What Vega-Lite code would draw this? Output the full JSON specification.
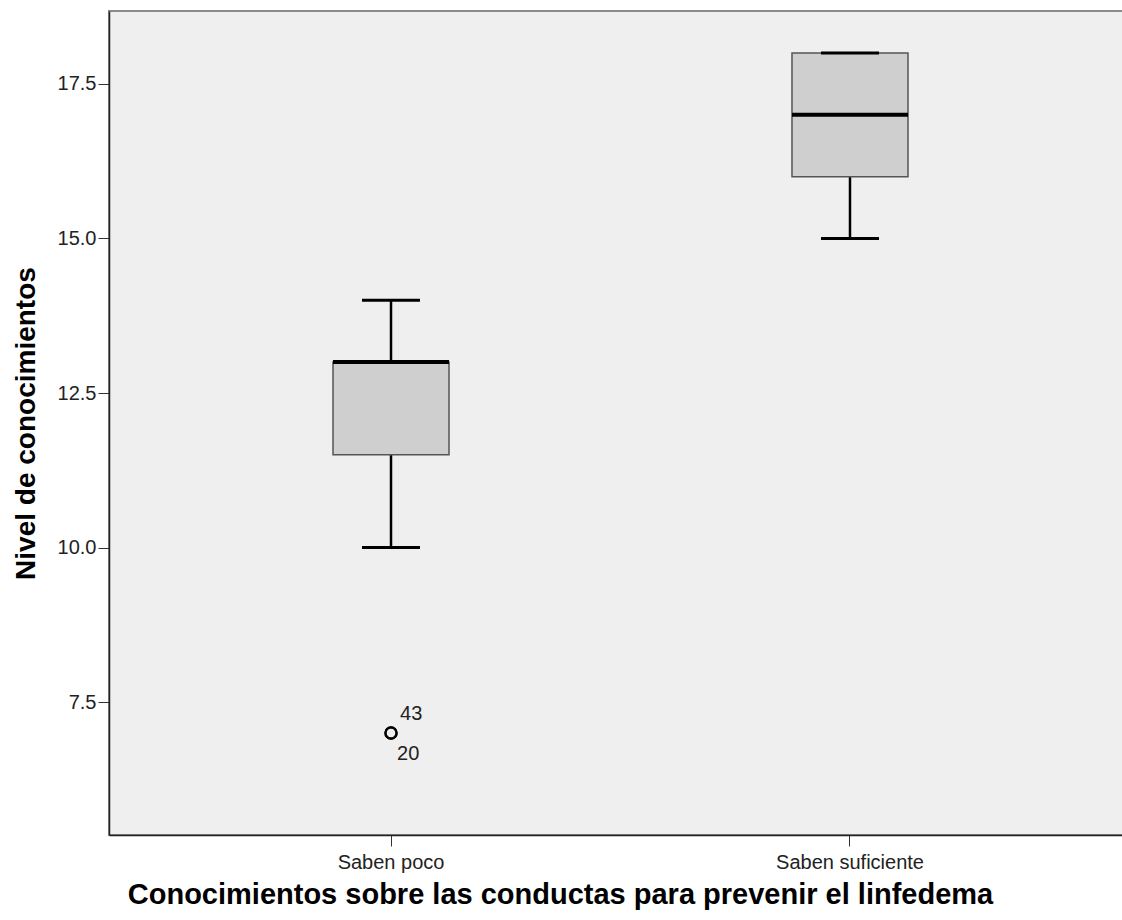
{
  "$schema": "https://vega.github.io/schema/vega-lite/v6.json",
  "autosize": {"type": "none"},
  "padding": {"left": 109, "top": 11, "right": 0, "bottom": 85},
  "width": 1023,
  "height": 824,
  "background": "white",
  "config": {
    "font": "Liberation Sans",
    "view": {"fill": "#efefef", "stroke": "#8a8a8a", "strokeWidth": 2}
  },
  "datasets": {
    "boxes": [
      {"grupo": "Saben poco", "lower": 10, "q1": 11.5, "median": 13, "q3": 13, "upper": 14},
      {"grupo": "Saben suficiente", "lower": 15, "q1": 16, "median": 17, "q3": 18, "upper": 18}
    ],
    "outliers": [
      {"grupo": "Saben poco", "valor": 7, "caso": "43", "pos": "arriba"},
      {"grupo": "Saben poco", "valor": 7, "caso": "20", "pos": "abajo"}
    ]
  },
  "encoding": {
    "x": {
      "field": "grupo",
      "type": "nominal",
      "scale": {"domain": ["Saben poco", "Saben suficiente"], "paddingInner": 0.5, "paddingOuter": 0.3644},
      "axis": {
        "title": "Conocimientos sobre las conductas para prevenir el linfedema",
        "titleFont": "Liberation Sans",
        "titleFontSize": 29,
        "titleFontWeight": "bold",
        "titleColor": "black",
        "titleX": 451,
        "titlePadding": 8,
        "labelFontSize": 20,
        "labelColor": "#222",
        "labelPadding": 6,
        "labelAngle": 0,
        "tickSize": 11,
        "tickColor": "#333",
        "domainColor": "#222",
        "domainWidth": 1.5
      }
    }
  },
  "layer": [
    {
      "data": {"name": "boxes"},
      "mark": {"type": "rule", "color": "black", "strokeWidth": 2.5},
      "encoding": {
        "y": {"field": "lower", "type": "quantitative",
          "scale": {"domain": [5.35, 18.68], "nice": false, "zero": false},
          "axis": {
            "title": "Nivel de conocimientos",
            "titleFont": "Liberation Sans",
            "titleFontSize": 28,
            "titleFontWeight": "bold",
            "titleColor": "black",
            "titlePadding": 17,
            "values": [7.5, 10, 12.5, 15, 17.5],
            "format": ".1f",
            "labelFontSize": 20,
            "labelColor": "#222",
            "labelPadding": 2,
            "tickSize": 11,
            "tickColor": "#333",
            "domainColor": "#222",
            "domainWidth": 1.5,
            "grid": false
          }
        },
        "y2": {"field": "q1"}
      }
    },
    {
      "data": {"name": "boxes"},
      "mark": {"type": "rule", "color": "black", "strokeWidth": 2.5},
      "encoding": {
        "y": {"field": "q3", "type": "quantitative"},
        "y2": {"field": "upper"}
      }
    },
    {
      "data": {"name": "boxes"},
      "mark": {"type": "bar", "size": 116, "fill": "#cfcfcf", "stroke": "#555555", "strokeWidth": 1.5},
      "encoding": {
        "y": {"field": "q1", "type": "quantitative"},
        "y2": {"field": "q3"}
      }
    },
    {
      "data": {"name": "boxes"},
      "mark": {"type": "tick", "size": 58, "thickness": 3, "color": "black", "opacity": 1},
      "encoding": {"y": {"field": "lower", "type": "quantitative"}}
    },
    {
      "data": {"name": "boxes"},
      "mark": {"type": "tick", "size": 58, "thickness": 3, "color": "black", "opacity": 1},
      "encoding": {"y": {"field": "upper", "type": "quantitative"}}
    },
    {
      "data": {"name": "boxes"},
      "mark": {"type": "tick", "size": 116, "thickness": 4, "color": "black", "opacity": 1},
      "encoding": {"y": {"field": "median", "type": "quantitative"}}
    },
    {
      "data": {"name": "outliers"},
      "mark": {"type": "point", "shape": "circle", "size": 125, "filled": false, "stroke": "black", "strokeWidth": 2.2, "opacity": 1},
      "encoding": {"y": {"field": "valor", "type": "quantitative"}}
    },
    {
      "data": {"name": "outliers"},
      "transform": [{"filter": "datum.pos == 'arriba'"}],
      "mark": {"type": "text", "align": "left", "baseline": "alphabetic", "dx": 9, "dy": -13, "fontSize": 20, "color": "#222"},
      "encoding": {"y": {"field": "valor", "type": "quantitative"}, "text": {"field": "caso"}}
    },
    {
      "data": {"name": "outliers"},
      "transform": [{"filter": "datum.pos == 'abajo'"}],
      "mark": {"type": "text", "align": "left", "baseline": "alphabetic", "dx": 6, "dy": 27, "fontSize": 20, "color": "#222"},
      "encoding": {"y": {"field": "valor", "type": "quantitative"}, "text": {"field": "caso"}}
    }
  ]
}
